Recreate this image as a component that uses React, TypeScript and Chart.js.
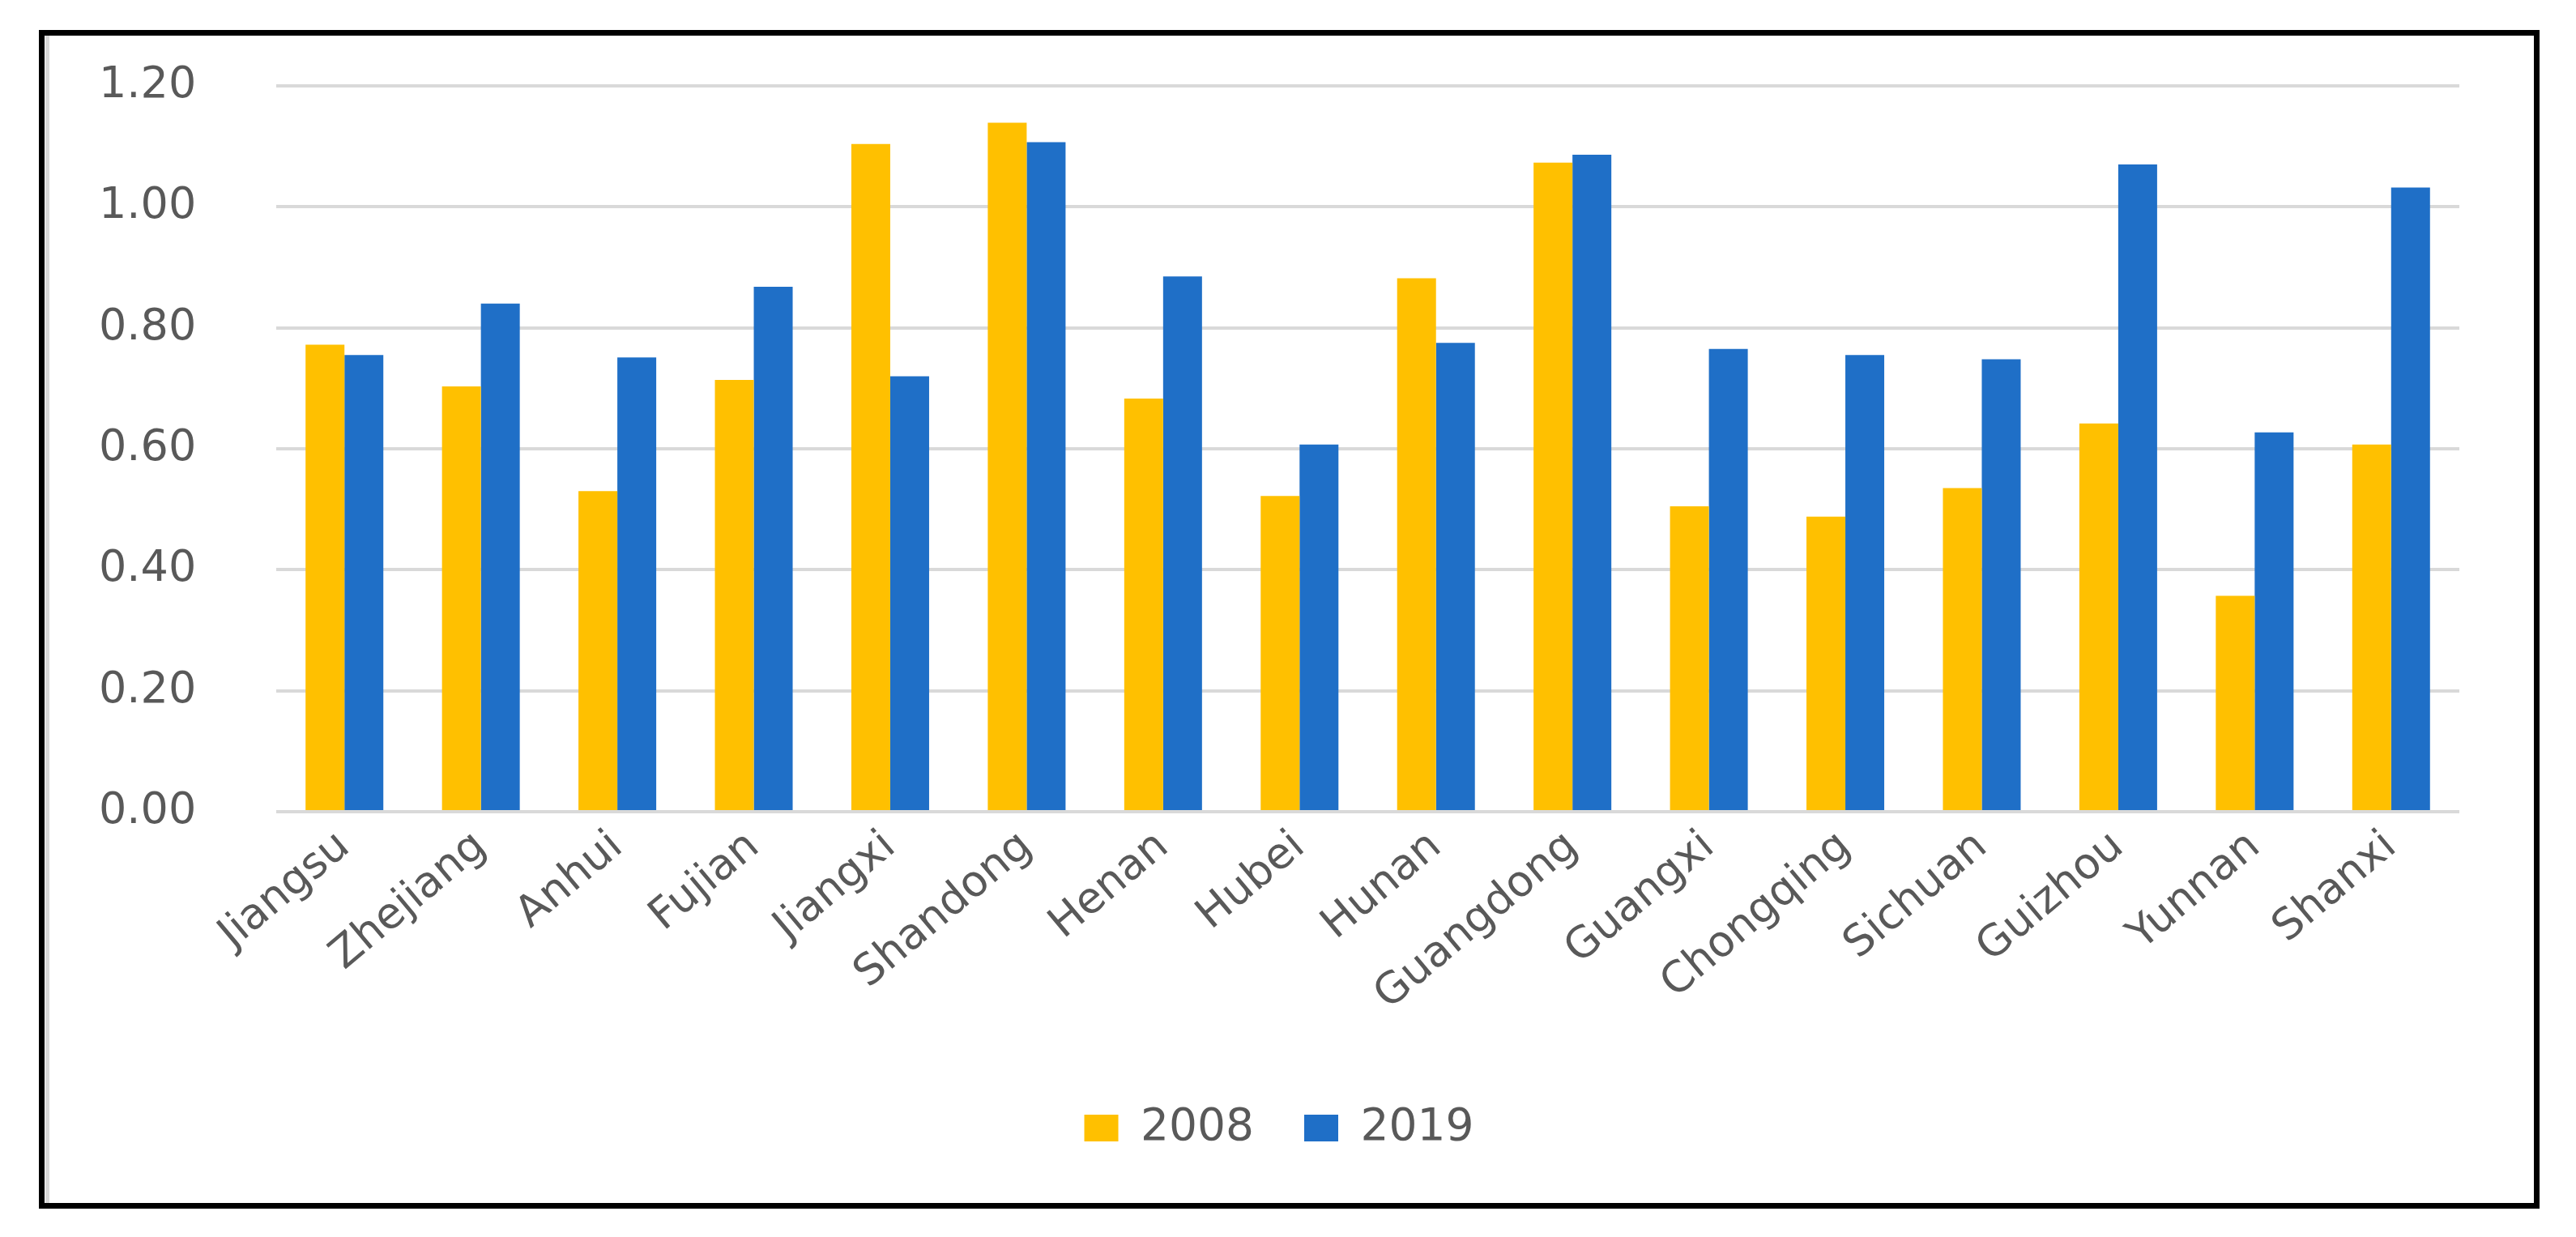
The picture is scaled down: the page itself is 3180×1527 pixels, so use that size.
import React, { useEffect, useRef } from "react";
import { Chart, registerables } from "chart.js";

Chart.register(...registerables);

const categories = [
  "Jiangsu", "Zhejiang", "Anhui", "Fujian", "Jiangxi", "Shandong", "Henan", "Hubei",
  "Hunan", "Guangdong", "Guangxi", "Chongqing", "Sichuan", "Guizhou", "Yunnan", "Shanxi",
];
const values2008 = [0.772, 0.703, 0.53, 0.714, 1.104, 1.139, 0.683, 0.522, 0.882, 1.073, 0.505, 0.488, 0.535, 0.642, 0.357, 0.607];
const values2019 = [0.755, 0.84, 0.751, 0.868, 0.72, 1.107, 0.885, 0.607, 0.775, 1.086, 0.765, 0.755, 0.748, 1.07, 0.627, 1.032];
const seriesLabels = ["2008", "2019"];
const yMin = 0;
const yMax = 1.2;
const yStep = 0.2;

const TEXT = "#595959";
const FONT = "DejaVu Sans";

export default function App() {
  const ref = useRef<HTMLCanvasElement | null>(null);
  useEffect(() => {
    if (!ref.current) return;
    const chart = new Chart(ref.current, {
      type: "bar",
      data: {
        labels: categories,
        datasets: [
          { label: seriesLabels[0], data: values2008, backgroundColor: "#FFC000", categoryPercentage: 0.57, barPercentage: 1 },
          { label: seriesLabels[1], data: values2019, backgroundColor: "#1F6FC7", categoryPercentage: 0.57, barPercentage: 1 },
        ],
      },
      options: {
        animation: false,
        responsive: true,
        maintainAspectRatio: false,
        layout: { padding: { top: 62, right: 93, bottom: 55, left: 60 } },
        plugins: {
          legend: {
            position: "bottom",
            labels: {
              boxWidth: 42,
              boxHeight: 33,
              padding: 62,
              color: TEXT,
              font: { family: FONT, size: 55 },
            },
          },
          tooltip: { enabled: false },
        },
        scales: {
          x: {
            grid: { display: false },
            border: { display: false },
            ticks: {
              color: TEXT,
              font: { family: FONT, size: 53 },
              minRotation: 40,
              maxRotation: 40,
              autoSkip: false,
              padding: 4,
            },
            afterFit: (s: any) => {
              s.height = 301;
            },
          },
          y: {
            min: yMin,
            max: yMax,
            ticks: {
              stepSize: yStep,
              callback: (v: any) => Number(v).toFixed(2),
              padding: 0,
              crossAlign: "far",
              color: TEXT,
              font: { family: FONT, size: 54 },
            },
            grid: { color: "#D9D9D9", lineWidth: 4, drawTicks: false },
            border: { display: false },
            afterFit: (s: any) => {
              s.width = 219;
            },
          },
        },
      },
    });
    return () => chart.destroy();
  }, []);

  return (
    <div style={{ position: "absolute", left: 0, top: 0, width: 3180, height: 1527, background: "#fff" }}>
      <div
        style={{
          position: "absolute",
          left: 48,
          top: 37,
          width: 3087,
          height: 1455,
          border: "7px solid #000",
          boxSizing: "border-box",
        }}
      />
      <div style={{ position: "absolute", left: 56, top: 44, width: 5, height: 1441, background: "#D9D9D9" }} />
      <div style={{ position: "absolute", left: 62, top: 44, width: 3067, height: 1441 }}>
        <canvas ref={ref} />
      </div>
    </div>
  );
}
